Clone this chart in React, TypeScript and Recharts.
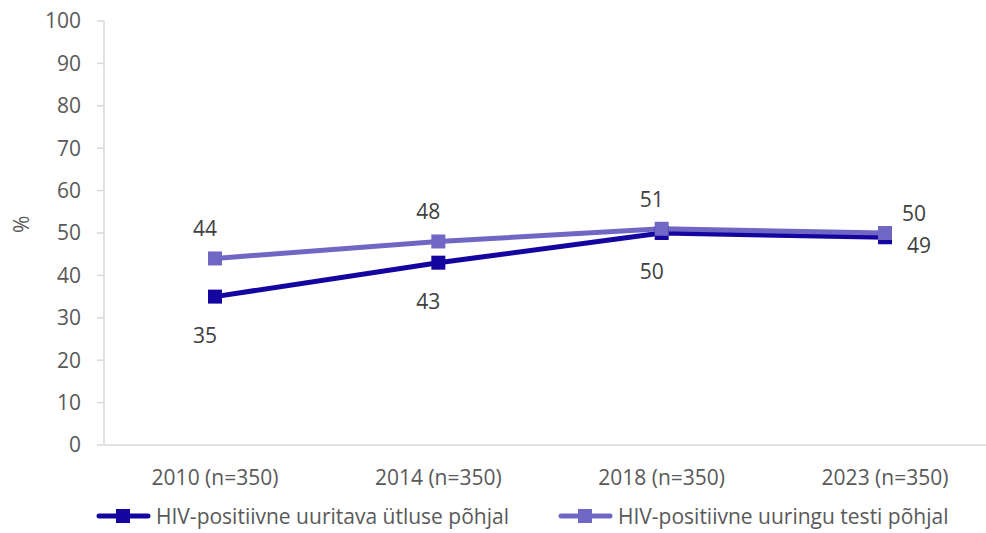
import React from "react";
import { LineChart, Line, XAxis, YAxis, Legend, LabelList } from "recharts";

const categories = ["2010 (n=350)", "2014 (n=350)", "2018 (n=350)", "2023 (n=350)"];
const selfReport = [35, 43, 50, 49];
const testBased = [44, 48, 51, 50];
const yTicks = [0, 10, 20, 30, 40, 50, 60, 70, 80, 90, 100];

const SERIES = [
  { key: "selfReport", name: "HIV-positiivne uuritava ütluse põhjal", color: "#1405A0" },
  { key: "testBased", name: "HIV-positiivne uuringu testi põhjal", color: "#7067C5" },
];

const data = categories.map((c, i) => ({
  category: c,
  selfReport: selfReport[i],
  testBased: testBased[i],
}));

const FONT = "'Open Sans', sans-serif";
const FS = 21;
const TEXT = "#595959";
const AXIS = "#D9D9D9";

const SquareDot = (color: string) => (props: any) => {
  const { cx, cy } = props;
  if (cx == null || cy == null) return null;
  return <rect x={cx - 7} y={cy - 7} width={14} height={14} fill={color} />;
};

const makeLabel = (below: boolean) => (props: any) => {
  const { x, y, value, index } = props;
  const last = index === categories.length - 1;
  let dx = -10;
  let dy = below ? 38 : -30;
  if (last) {
    dx = below ? 34 : 29;
    dy = below ? 8 : -20;
  }
  return (
    <text
      x={x + dx}
      y={y + dy}
      textAnchor="middle"
      dominantBaseline="central"
      fill="#404040"
      fontSize={FS}
      fontFamily={FONT}
    >
      {value}
    </text>
  );
};

const LegendContent = () => (
  <div style={{ display: "flex", alignItems: "center", paddingLeft: 96, paddingTop: 7, fontFamily: FONT, fontSize: FS, color: TEXT }}>
    {SERIES.map((s, i) => (
      <div key={s.key} style={{ display: "flex", alignItems: "center", marginRight: i === 0 ? 49 : 0 }}>
        <svg width={55} height={16} style={{ marginRight: 5 }}>
          <line x1={3} y1={8} x2={52} y2={8} stroke={s.color} strokeWidth={5} strokeLinecap="round" />
          <rect x={20} y={1} width={14} height={14} fill={s.color} />
        </svg>
        <span>{s.name}</span>
      </div>
    ))}
  </div>
);

export default function App() {
  return (
    <div style={{ position: "absolute", left: 0, top: 0, width: 986, height: 533, overflow: "hidden", background: "#fff" }}>
      <LineChart width={996} height={533} data={data} margin={{ top: 21, right: 0, left: 0, bottom: 0 }}>
        <XAxis
          dataKey="category"
          tickLine={false}
          axisLine={{ stroke: AXIS, strokeWidth: 1.5 }}
          tick={{ fontSize: FS, fill: TEXT, fontFamily: FONT }}
          tickMargin={19}
          height={50}
          interval={0}
          padding={{ left: 111, right: 111 }}
        />
        <YAxis
          domain={[0, 100]}
          ticks={yTicks}
          width={104}
          tickSize={7}
          tickMargin={16}
          tickLine={{ stroke: AXIS, strokeWidth: 1.5 }}
          axisLine={{ stroke: AXIS, strokeWidth: 1.5 }}
          tick={{ fontSize: FS, fill: TEXT, fontFamily: FONT }}
          label={{
            value: "%",
            angle: -90,
            position: "insideLeft",
            offset: 22,
            style: { fontSize: FS, fill: TEXT, fontFamily: FONT },
          }}
        />
        <Legend verticalAlign="bottom" height={38} content={<LegendContent />} />
        {SERIES.map((s, i) => (
          <Line
            key={s.key}
            dataKey={s.key}
            name={s.name}
            stroke={s.color}
            strokeWidth={5}
            dot={SquareDot(s.color)}
            activeDot={false}
            isAnimationActive={false}
          >
            <LabelList dataKey={s.key} content={makeLabel(i === 0)} />
          </Line>
        ))}
      </LineChart>
    </div>
  );
}
